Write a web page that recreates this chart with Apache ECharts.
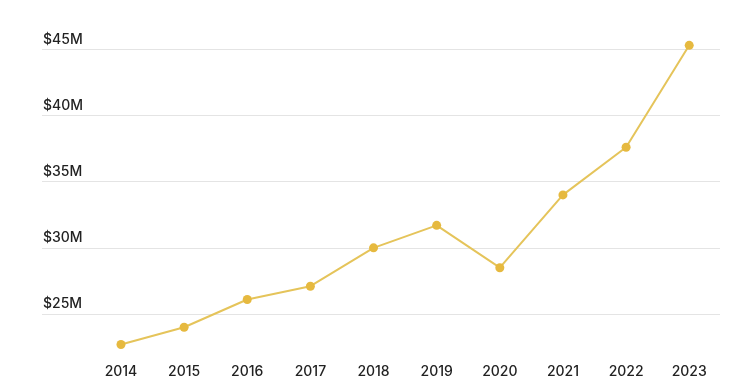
<!DOCTYPE html>
<html>
<head>
<meta charset="utf-8">
<script src="https://cdn.jsdelivr.net/npm/echarts@6/dist/echarts.min.js"></script>
<style>
html,body{margin:0;padding:0;background:#fff;}
#chart{width:730px;height:387px;}
</style>
</head>
<body>
<div id="chart"></div>
<script>
const years = ['2014','2015','2016','2017','2018','2019','2020','2021','2022','2023'];
const revenue = [22.7, 24.0, 26.1, 27.1, 30.0, 31.7, 28.5, 34.0, 37.6, 45.3];
const yMin = 20, yMax = 45, yStep = 5;

const chart = echarts.init(document.getElementById('chart'), null, {renderer:'canvas'});
const font = 'Inter, "Open Sans", sans-serif';
const gridTop = 49.3, gridBottom = 6.8;
chart.setOption({
  animation: false,
  backgroundColor: '#ffffff',
  grid: [
    {left: 42, right: 10, top: gridTop, bottom: gridBottom},
    {left: 89.4, right: 9.2, top: gridTop, bottom: gridBottom}
  ],
  xAxis: [
    {gridIndex: 0, type: 'category', data: years, show: false},
    {gridIndex: 1, type: 'category', data: years, boundaryGap: true,
     axisLine: {show: false}, axisTick: {show: false},
     axisLabel: {margin: -15.5, color: '#222', fontSize: 14, fontWeight: 500, fontFamily: font}}
  ],
  yAxis: [
    {gridIndex: 0, type: 'value', min: yMin, max: yMax, interval: yStep,
     axisLine: {show: false}, axisTick: {show: false},
     splitLine: {lineStyle: {color: ['rgba(0,0,0,0)', '#e4e4e4', '#e4e4e4', '#e4e4e4', '#e4e4e4', '#e4e4e4'], width: 1}},
     axisLabel: {inside: true, margin: 1, verticalAlign: 'bottom', padding: [0,0,3,0],
       showMinLabel: false,
       color: '#222', fontSize: 14, fontWeight: 500, fontFamily: font,
       formatter: v => '$' + v + 'M'}},
    {gridIndex: 1, type: 'value', min: yMin, max: yMax, interval: yStep, show: false,
     splitLine: {show: false}}
  ],
  series: [{
    type: 'line', xAxisIndex: 1, yAxisIndex: 1, data: revenue,
    symbol: 'circle', symbolSize: 9, clip: false,
    lineStyle: {color: '#E5C45A', width: 2},
    itemStyle: {color: '#E6B93F'}
  }]
});
</script>
</body>
</html>
